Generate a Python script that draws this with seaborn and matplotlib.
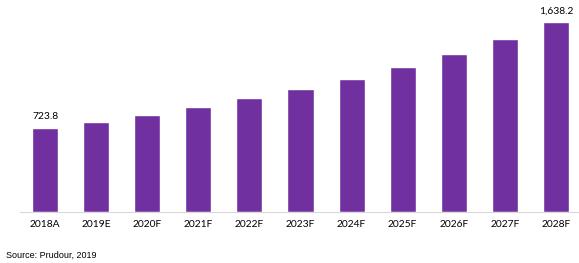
import matplotlib
matplotlib.use("Agg")
import matplotlib.pyplot as plt
import seaborn as sns
import pandas as pd

years = ["2018A", "2019E", "2020F", "2021F", "2022F", "2023F", "2024F", "2025F", "2026F", "2027F", "2028F"]
values = [723.8, 773, 833, 903, 981, 1059, 1146, 1250, 1363, 1493, 1638.2]
labels = ["723.8", "", "", "", "", "", "", "", "", "", "1,638.2"]
source = "Source: Prudour, 2019"

sns.set_theme(style="white")
plt.rcParams['font.family'] = ['Lato', 'DejaVu Sans']

df = pd.DataFrame({"year": years, "value": values})

fig = plt.figure(figsize=(5.79, 2.63), dpi=100)
ax = fig.add_axes([20/579, 51/263, 561/579, 212/263])
sns.barplot(data=df, x="year", y="value", color="#7030A0", saturation=1, width=0.51, ax=ax)

ax.set_xlim(-0.49, 10.49)
ax.set_ylim(0, 1830)
ax.set_xlabel("")
ax.set_ylabel("")
ax.set_yticks([])
for s in ["top", "right", "left"]:
    ax.spines[s].set_visible(False)
ax.spines["bottom"].set_color("#D9D9D9")
ax.spines["bottom"].set_linewidth(0.8)
ax.tick_params(axis="x", length=0, pad=6, labelsize=7.4, labelcolor="#000000")

for i, (v, lab) in enumerate(zip(values, labels)):
    if lab:
        ax.annotate(lab, (i, v), xytext=(0, 5), textcoords="offset points",
                    ha="center", va="bottom", fontsize=7.4, color="#000000")

fig.text(6/579, 1 - 255/263, source, fontsize=6.5, family=["Liberation Sans"], va="center", ha="left", color="#000000")

fig.savefig("out.png", dpi=100)
